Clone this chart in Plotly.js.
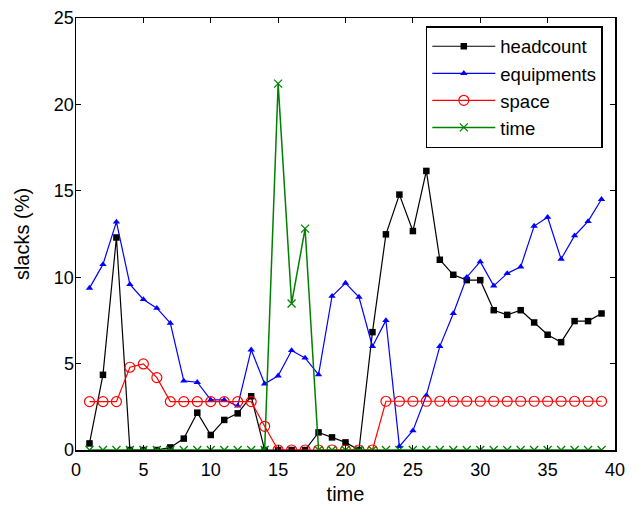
<!DOCTYPE html>
<html><head><meta charset="utf-8">
<script src="https://cdn.plot.ly/plotly-3.0.1.min.js"></script>
<style>html,body{margin:0;padding:0;background:#fff}#c{width:638px;height:505px}</style>
</head><body><div id="c"></div>
<script>
const t = [1,2,3,4,5,6,7,8,9,10,11,12,13,14,15,16,17,18,19,20,21,22,23,24,25,26,27,28,29,30,31,32,33,34,35,36,37,38,39];
const headcount = [0.38,4.35,12.3,0,0,0,0.15,0.66,2.16,0.87,1.74,2.12,3.11,0,0,0,0,1.02,0.73,0.44,0,6.82,12.48,14.78,12.67,16.15,11.01,10.14,9.83,9.83,8.09,7.82,8.09,7.38,6.67,6.24,7.46,7.46,7.9];
const equipments = [9.37,10.74,13.2,9.58,8.71,8.21,7.34,4.0,3.92,2.9,2.9,2.55,5.8,3.83,4.29,5.76,5.33,4.36,8.9,9.66,8.85,5.99,7.5,0.21,1.12,3.16,6.0,7.9,10.0,10.9,9.5,10.22,10.6,12.96,13.47,11.05,12.4,13.23,14.51];
const space = [2.8,2.8,2.8,4.79,4.98,4.19,2.8,2.8,2.8,2.8,2.8,2.8,2.8,1.37,0,0,0,0,0,0,0,0,2.82,2.82,2.82,2.82,2.82,2.82,2.82,2.82,2.82,2.82,2.82,2.82,2.82,2.82,2.82,2.82,2.82];
const time = [0,0,0,0,0,0,0,0,0,0,0,0,0,0,21.2,8.48,12.81,0,0,0,0,0,0,0,0,0,0,0,0,0,0,0,0,0,0,0,0,0,0];
const names = ["headcount","equipments","space","time"];
const xTicks = [0,5,10,15,20,25,30,35,40];
const yTicks = [0,5,10,15,20,25];

const green = "rgb(0,128,0)";
const FONT = "Liberation Sans, Arial, Helvetica, sans-serif";
const data = [
  {x:t, y:headcount, name:names[0], mode:"lines+markers", line:{color:"black",width:1.2}, marker:{symbol:"square",size:6.5,color:"black"}},
  {x:t, y:equipments, name:names[1], mode:"lines+markers", line:{color:"blue",width:1.2}, marker:{symbol:"triangle-up",size:6.5,color:"blue"}},
  {x:t, y:space, name:names[2], mode:"lines+markers", line:{color:"red",width:1.2}, marker:{symbol:"circle-open",size:10,color:"red",line:{width:1.2}}},
  {x:t, y:time, name:names[3], mode:"lines+markers", line:{color:green,width:1.5}, marker:{symbol:"x-thin-open",size:8,color:green,line:{width:1.3,color:green}}}
];
const axBase = {showgrid:false, zeroline:false, showline:true, mirror:"ticks", linecolor:"black", linewidth:1.5,
  ticks:"inside", ticklen:5, tickcolor:"black", tickwidth:1, tickfont:{family:FONT, size:18, color:"black"}};
const layout = {
  width:638, height:505, paper_bgcolor:"#fff", plot_bgcolor:"#fff",
  margin:{l:76, r:23, t:18, b:55},
  font:{family:FONT, size:18, color:"black"},
  xaxis:Object.assign({}, axBase, {range:[0,40], tickvals:xTicks, ticktext:xTicks.map(String), ticklabelstandoff:3,
    title:{text:"time", font:{size:20}, standoff:8}}),
  yaxis:Object.assign({}, axBase, {range:[0,25], tickvals:yTicks, ticktext:yTicks.map(String), ticklabelstandoff:-3,
    title:{text:"slacks (%)", font:{size:20}, standoff:19}}),
  showlegend:true,
  legend:{x:0.649, y:0.981, xanchor:"left", yanchor:"top", bordercolor:"black", borderwidth:1.5, bgcolor:"#fff",
    font:{size:18.5}, itemwidth:63, tracegroupgap:0}
};
Plotly.newPlot("c", data, layout, {displayModeBar:false, staticPlot:true});
</script></body></html>
